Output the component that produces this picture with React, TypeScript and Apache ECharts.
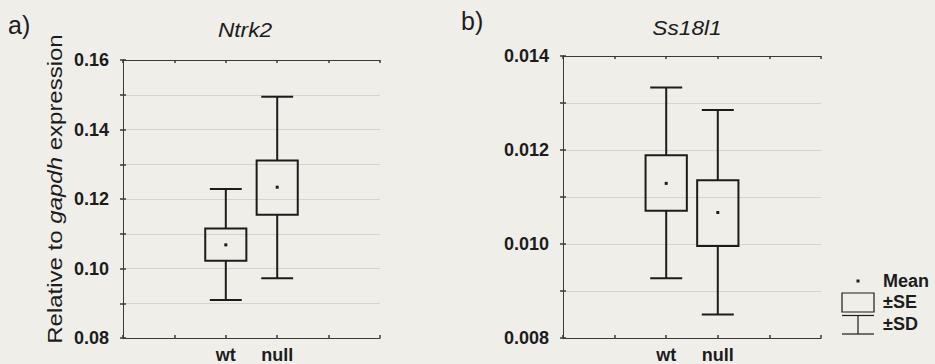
import React, { useEffect, useRef } from "react";
import * as echarts from "echarts";

const categories = ["wt", "null"];
const catPositions = [2, 3];
const yTicksA = [0.08, 0.1, 0.12, 0.14, 0.16];
const yTicksB = [0.008, 0.01, 0.012, 0.014];

// Ntrk2
const ntrkSdLow = [0.0909, 0.0972];
const ntrkSeLow = [0.1022, 0.1155];
const ntrkMean = [0.1068, 0.1234];
const ntrkSeHigh = [0.1115, 0.1311];
const ntrkSdHigh = [0.1229, 0.1494];

// Ss18l1
const ssSdLow = [0.00927, 0.0085];
const ssSeLow = [0.01071, 0.00996];
const ssMean = [0.01129, 0.01067];
const ssSeHigh = [0.01189, 0.011355];
const ssSdHigh = [0.01333, 0.01285];

const FONT = "Liberation Sans, Arial, sans-serif";
const INK = "#1c1c1c";
const BG = "#efeee9";

function buildData(lo: number[], seLo: number[], mean: number[], seHi: number[], hi: number[]) {
  return catPositions.map((x, i) => [x, lo[i], seLo[i], mean[i], seHi[i], hi[i]]);
}

const renderBox = (params: any, api: any) => {
  const x = api.value(0);
  const pLo = api.coord([x, api.value(1)]);
  const pSeLo = api.coord([x, api.value(2)]);
  const pMean = api.coord([x, api.value(3)]);
  const pSeHi = api.coord([x, api.value(4)]);
  const pHi = api.coord([x, api.value(5)]);
  const boxW = api.size([0.8, 0])[0];
  const capW = api.size([0.62, 0])[0];
  const cx = pMean[0];
  const st = { stroke: INK, lineWidth: 2, fill: "none" };
  return {
    type: "group",
    children: [
      { type: "line", shape: { x1: cx, y1: pHi[1], x2: cx, y2: pSeHi[1] }, style: st },
      { type: "line", shape: { x1: cx, y1: pSeLo[1], x2: cx, y2: pLo[1] }, style: st },
      { type: "line", shape: { x1: cx - capW / 2, y1: pHi[1], x2: cx + capW / 2, y2: pHi[1] }, style: st },
      { type: "line", shape: { x1: cx - capW / 2, y1: pLo[1], x2: cx + capW / 2, y2: pLo[1] }, style: st },
      {
        type: "rect",
        shape: { x: cx - boxW / 2, y: pSeHi[1], width: boxW, height: pSeLo[1] - pSeHi[1] },
        style: { stroke: INK, lineWidth: 2, fill: "transparent" },
      },
      { type: "rect", shape: { x: cx - 1.5, y: pMean[1] - 1.5, width: 3, height: 3 }, style: { fill: INK } },
    ],
  };
};

function xAxes(gridIndex: number) {
  const base = {
    type: "value",
    gridIndex,
    min: 0,
    max: 5,
    interval: 1,
    splitLine: { show: false },
    axisLine: { show: true, lineStyle: { color: "#3a3a3a", width: 1 } },
    axisTick: { show: true, inside: true, length: 3, lineStyle: { color: "#3a3a3a", width: 1.5 } },
  };
  return [
    {
      ...base,
      position: "bottom",
      axisLabel: {
        show: true,
        margin: 8,
        fontFamily: FONT,
        fontWeight: "bold",
        fontSize: 18,
        color: INK,
        formatter: (v: number) => {
          const idx = catPositions.indexOf(Math.round(v));
          return idx >= 0 ? categories[idx] : "";
        },
      },
    },
    { ...base, position: "top", axisLabel: { show: false } },
  ];
}

function yAxes(gridIndex: number, min: number, max: number, interval: number, ticks: number[], digits: number) {
  const base = {
    type: "value",
    gridIndex,
    min,
    max,
    interval,
    axisLine: { show: true, lineStyle: { color: "#3a3a3a", width: 1 } },
    axisTick: { show: true, inside: true, length: 3, lineStyle: { color: "#3a3a3a", width: 1.5 } },
  };
  return [
    {
      ...base,
      position: "left",
      splitLine: { show: true, lineStyle: { color: "#d5d5d0", width: 1 } },
      axisLabel: {
        show: true,
        margin: 14,
        fontFamily: FONT,
        fontWeight: "bold",
        fontSize: 18,
        color: INK,
        formatter: (v: number) => {
          const hit = ticks.some((t) => Math.abs(t - v) < interval / 10);
          return hit ? v.toFixed(digits) : "";
        },
      },
    },
    { ...base, position: "right", splitLine: { show: false }, axisLabel: { show: false } },
  ];
}

export default function App() {
  const ref = useRef<HTMLDivElement>(null);
  useEffect(() => {
    document.body.style.margin = "0";
    if (!ref.current) return;
    const chart = echarts.init(ref.current, undefined, { renderer: "svg" });
    const xa = [...xAxes(0), ...xAxes(1)];
    const ya = [
      ...yAxes(0, 0.08, 0.16, 0.01, yTicksA, 2),
      ...yAxes(1, 0.008, 0.014, 0.001, yTicksB, 3),
    ];
    const lx = 858;
    const legendStroke = { stroke: INK, lineWidth: 1.2 };
    chart.setOption({
      animation: false,
      backgroundColor: BG,
      grid: [
        { left: 123, top: 60, width: 257, height: 278 },
        { left: 563, top: 56, width: 258, height: 282 },
      ],
      xAxis: xa,
      yAxis: ya,
      series: [
        {
          type: "custom",
          xAxisIndex: 0,
          yAxisIndex: 0,
          renderItem: renderBox,
          encode: { x: 0, y: [1, 2, 3, 4, 5] },
          data: buildData(ntrkSdLow, ntrkSeLow, ntrkMean, ntrkSeHigh, ntrkSdHigh),
          silent: true,
        },
        {
          type: "custom",
          xAxisIndex: 2,
          yAxisIndex: 2,
          renderItem: renderBox,
          encode: { x: 0, y: [1, 2, 3, 4, 5] },
          data: buildData(ssSdLow, ssSeLow, ssMean, ssSeHigh, ssSdHigh),
          silent: true,
        },
      ],
      graphic: [
        { type: "text", left: 8, top: 12, style: { text: "a)", fontFamily: FONT, fontSize: 25, fill: INK } },
        { type: "text", left: 461, top: 8, style: { text: "b)", fontFamily: FONT, fontSize: 25, fill: INK } },
        {
          type: "text",
          x: 245,
          y: 30,
          scaleX: 1.08,
          style: { text: "Ntrk2", fontFamily: FONT, fontStyle: "italic", fontSize: 21, fill: INK, align: "center", verticalAlign: "middle" },
        },
        {
          type: "text",
          x: 687,
          y: 28,
          scaleX: 1.08,
          style: { text: "Ss18l1", fontFamily: FONT, fontStyle: "italic", fontSize: 21, fill: INK, align: "center", verticalAlign: "middle" },
        },
        {
          type: "text",
          x: 55,
          y: 189,
          rotation: Math.PI / 2,
          scaleX: 1.2,
          style: {
            text: "{n|Relative to }{i|gapdh}{n| expression}",
            align: "center",
            verticalAlign: "middle",
            rich: {
              n: { fontFamily: FONT, fontSize: 20, fill: INK },
              i: { fontFamily: FONT, fontSize: 20, fontStyle: "italic", fill: INK },
            },
          },
        },
        // legend
        { type: "rect", shape: { x: lx - 1.5, y: 279.5, width: 3, height: 3 }, style: { fill: INK } },
        { type: "rect", shape: { x: 842, y: 293, width: 32, height: 19 }, style: { ...legendStroke, fill: "transparent" } },
        { type: "line", shape: { x1: 842, y1: 315.5, x2: 874, y2: 315.5 }, style: legendStroke },
        { type: "line", shape: { x1: lx, y1: 315.5, x2: lx, y2: 334 }, style: legendStroke },
        { type: "line", shape: { x1: 842, y1: 334, x2: 874, y2: 334 }, style: legendStroke },
        { type: "text", x: 883, y: 281, style: { text: "Mean", fontFamily: FONT, fontWeight: "bold", fontSize: 18, fill: INK, verticalAlign: "middle" } },
        { type: "text", x: 883, y: 302, style: { text: "±SE", fontFamily: FONT, fontWeight: "bold", fontSize: 18, fill: INK, verticalAlign: "middle" } },
        { type: "text", x: 883, y: 324, style: { text: "±SD", fontFamily: FONT, fontWeight: "bold", fontSize: 18, fill: INK, verticalAlign: "middle" } },
      ],
    });
    return () => chart.dispose();
  }, []);
  return <div ref={ref} style={{ width: 935, height: 364 }} />;
}
